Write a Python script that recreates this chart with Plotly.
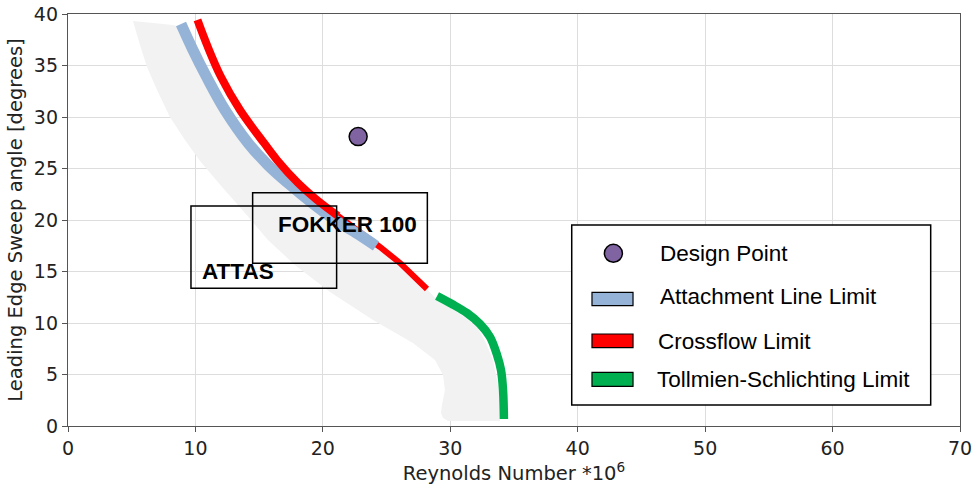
import plotly.graph_objects as go

# ---------------- data ----------------
# Attachment line limit (Reynolds *1e6, sweep deg)
att_re    = [8.87, 9.81, 10.88, 12.32, 14.13, 15.69, 17.34, 19.15, 20.95, 22.76, 24.17]
att_sweep = [39.03, 36.5, 33.88, 30.68, 27.48, 25.34, 23.5, 21.65, 20.0, 18.64, 17.48]

# Crossflow limit (upper thick part, lower thin part)
cf_up_re    = [10.16, 10.91, 12.01, 13.5, 15.38, 16.4, 18.05, 19.54, 21.19]
cf_up_sweep = [39.42, 36.99, 33.88, 30.68, 27.48, 25.83, 23.59, 21.94, 20.39]
cf_lo_re    = [21.19, 23.07, 24.48, 26.05, 28.17]
cf_lo_sweep = [20.39, 18.74, 17.38, 15.83, 13.3]

# Tollmien-Schlichting limit
ts_re    = [28.96, 30.13, 31.31, 32.33, 33.12, 33.67, 33.98, 34.14, 34.21]
ts_sweep = [12.62, 11.84, 10.97, 9.9, 8.64, 6.89, 5.44, 3.5, 0.68]

# Grey envelope (left edge top->bottom, then right edge bottom->top)
env_left_re    = [5.10, 5.65, 6.20, 7.06, 8.00, 9.18, 10.36, 12.09, 13.89, 15.69, 17.81,
                  20.56, 23.94, 27.07, 28.8, 29.43, 29.58, 29.35, 29.27, 29.43, 29.82]
env_left_sweep = [39.32, 36.99, 34.85, 32.43, 30.0, 27.77, 25.73, 23.2, 20.68, 18.06, 15.63,
                  13.01, 10.29, 8.06, 6.41, 4.95, 3.5, 2.04, 1.26, 0.78, 0.49]
env_right_re    = [33.9, 33.9, 33.67, 33.35, 32.8, 32.1, 31.0, 29.98, 28.96, 28.17, 26.05,
                   24.48, 22.76, 20.95, 19.15, 17.34, 15.69, 14.13, 12.32, 10.88, 9.81, 8.87, 8.24]
env_right_sweep = [0.49, 2.52, 4.47, 6.41, 8.06, 9.61, 10.68, 11.46, 12.23, 13.3, 15.83,
                   17.38, 18.64, 20.0, 21.65, 23.5, 25.34, 27.48, 30.68, 33.88, 36.5, 38.74, 38.93]

# Design point
design_re = [22.77]
design_sweep = [28.1]

# Aircraft operating boxes
attas_re = [9.65, 21.08]
attas_sweep = [13.37, 21.36]
fokker_re = [14.49, 28.2]
fokker_sweep = [15.8, 22.65]

legend_labels = ["Design Point", "Attachment Line Limit", "Crossflow Limit", "Tollmien-Schlichting Limit"]

# ---------------- colours ----------------
C_BLUE = "#95b3d7"
C_RED = "#ff0000"
C_GREEN = "#00b050"
C_PURPLE = "#8064a2"
C_GREY = "#f2f2f2"

fig = go.Figure()

fig.add_trace(go.Scatter(x=env_left_re + env_right_re, y=env_left_sweep + env_right_sweep,
                         fill="toself", fillcolor=C_GREY, mode="none", hoverinfo="skip",
                         showlegend=False))
fig.add_trace(go.Scatter(x=cf_lo_re, y=cf_lo_sweep, mode="lines",
                         line=dict(color=C_RED, width=6), showlegend=False))
fig.add_trace(go.Scatter(x=att_re, y=att_sweep, mode="lines",
                         line=dict(color=C_BLUE, width=11, shape="spline"), showlegend=False))
fig.add_trace(go.Scatter(x=cf_up_re, y=cf_up_sweep, mode="lines",
                         line=dict(color=C_RED, width=8, shape="spline"), showlegend=False))
fig.add_trace(go.Scatter(x=ts_re, y=ts_sweep, mode="lines",
                         line=dict(color=C_GREEN, width=8.5, shape="spline"), showlegend=False))

# boxes
for rx, sy in [(attas_re, attas_sweep), (fokker_re, fokker_sweep)]:
    fig.add_shape(type="rect", x0=rx[0], x1=rx[1], y0=sy[0], y1=sy[1],
                  line=dict(color="black", width=1.5), layer="above")

LBL_FONT = "Liberation Sans, Arial"
fig.add_annotation(x=13.37, y=15.0, text="<b>ATTAS</b>", showarrow=False,
                   font=dict(family=LBL_FONT, size=22.5, color="black"))
fig.add_annotation(x=21.9, y=19.56, text="<b>FOKKER 100</b>", showarrow=False,
                   font=dict(family=LBL_FONT, size=22.5, color="black"))

fig.add_trace(go.Scatter(x=design_re, y=design_sweep, mode="markers",
                         marker=dict(size=18, color=C_PURPLE, line=dict(color="black", width=1.5)),
                         showlegend=False))

# ---------------- manual legend ----------------
fig.add_shape(type="rect", x0=39.53, x1=67.7, y0=2.04, y1=19.51,
              line=dict(color="black", width=1.5), fillcolor="white", layer="above")
fig.add_shape(type="circle", xref="x", yref="y", xsizemode="pixel", ysizemode="pixel",
              xanchor=42.8, yanchor=16.77, x0=-9, x1=9, y0=-9, y1=9,
              fillcolor=C_PURPLE, line=dict(color="black", width=1.5), layer="above")
sw_y = [(11.69, 12.98), (7.6, 8.93), (3.85, 5.21)]
sw_c = [C_BLUE, C_RED, C_GREEN]
for (a, b), c in zip(sw_y, sw_c):
    fig.add_shape(type="rect", x0=41.12, x1=44.34, y0=a, y1=b,
                  fillcolor=c, line=dict(color="black", width=1.2), layer="above")
txt_x = [46.3, 46.3, 46.15, 46.09]
txt_y = [16.7, 12.55, 8.25, 4.47]
for lab, tx, ty in zip(legend_labels, txt_x, txt_y):
    fig.add_annotation(x=tx, y=ty, text=lab, showarrow=False, xanchor="left", yanchor="middle",
                       font=dict(family=LBL_FONT, size=22.5, color="black"))

axis_common = dict(showgrid=True, gridcolor="#dddddd", gridwidth=1, zeroline=False,
                   showline=True, linecolor="#555555", linewidth=1.3, mirror=True,
                   ticks="outside", ticklen=5, tickcolor="#555555", automargin=False,
                   ticklabeloverflow="allow",
                   tickfont=dict(family="DejaVu Sans", size=19, color="#222222"))

fig.update_layout(
    width=972, height=487,
    margin=dict(l=68, r=12, t=14, b=61, autoexpand=False),
    paper_bgcolor="white", plot_bgcolor="white",
    showlegend=False,
    xaxis=dict(range=[0, 70], dtick=10,
               title=dict(text="Reynolds Number *10<sup>6</sup>", standoff=8,
                          font=dict(family="DejaVu Sans", size=19.5, color="#222222")),
               **axis_common),
    yaxis=dict(range=[0, 40], dtick=5,
               title=dict(text="Leading Edge Sweep angle [degrees]", standoff=6,
                          font=dict(family="DejaVu Sans", size=19.5, color="#222222")),
               **axis_common),
)

fig.write_html("out.html", config={"displayModeBar": False},
               post_script="document.body.style.margin='0';")
